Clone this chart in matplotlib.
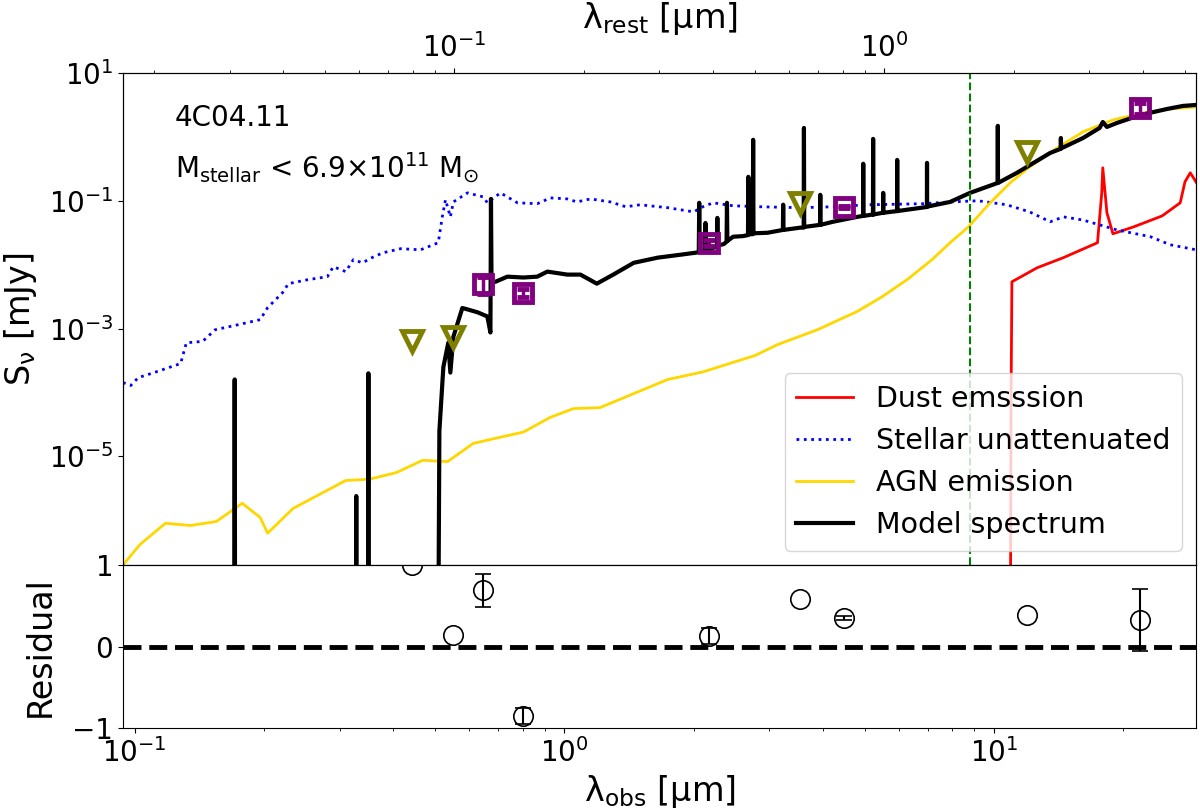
import numpy as np
import matplotlib.pyplot as plt

plt.rcParams['font.size'] = 20
plt.rcParams['mathtext.default'] = 'regular'

one_plus_z = 5.55
lam_break = 8.8   # obs-frame marker line

# --- SED model components (obs wavelength [um], flux [mJy])
dust_lam = [10.9, 10.95, 11.0, 12.6, 14.5, 17.4, 17.8, 17.9, 18.3, 18.9, 21.1, 24.6,
            27.1, 27.8, 28.6, 29.0, 29.6]
dust_flux = [1e-9, 7.8e-5, 5.4e-3, 8.97e-3, 0.0129, 0.0221, 0.133, 0.328, 0.065, 0.0305,
             0.039, 0.058, 0.093, 0.198, 0.274, 0.237, 0.19]

stellar_lam = [0.094, 0.098, 0.102, 0.111, 0.128, 0.132, 0.144, 0.154, 0.170, 0.196,
               0.204, 0.221, 0.228, 0.252, 0.281, 0.290, 0.310, 0.323, 0.339, 0.360,
               0.379, 0.416, 0.463, 0.509, 0.520, 0.529, 0.543, 0.552, 0.595, 0.648,
               0.662, 0.710, 0.778, 0.865, 0.928, 1.016, 1.07, 1.15, 1.28, 1.39, 1.50,
               1.74, 2.00, 2.10, 2.22, 2.47, 2.86, 3.54, 4.22, 5.07, 6.84, 7.90, 9.18,
               10.7, 12.1, 13.5, 14.5, 16.1, 19.3, 23.1, 25.7, 29.5]
stellar_flux = [1.43e-4, 1.29e-4, 1.71e-4, 2.05e-4, 2.84e-4, 6.0e-4, 6.3e-4, 9.6e-4,
                1.11e-3, 1.38e-3, 2.13e-3, 3.65e-3, 5.05e-3, 5.8e-3, 6.5e-3, 9.3e-3,
                7.8e-3, 0.0120, 0.0107, 0.0133, 0.0154, 0.0178, 0.0171, 0.0221, 0.056,
                0.104, 0.056, 0.096, 0.133, 0.115, 0.093, 0.133, 0.093, 0.090, 0.111,
                0.107, 0.096, 0.107, 0.096, 0.0806, 0.0866, 0.078, 0.067, 0.0806, 0.093,
                0.0835, 0.0806, 0.078, 0.0806, 0.0866, 0.090, 0.096, 0.100, 0.0866,
                0.067, 0.047, 0.056, 0.050, 0.035, 0.0274, 0.0205, 0.0171]

agn_lam = [0.094, 0.103, 0.118, 0.135, 0.155, 0.178, 0.196, 0.204, 0.234, 0.310, 0.352,
           0.407, 0.468, 0.535, 0.614, 0.710, 0.803, 0.928, 1.05, 1.21, 1.74, 2.10, 2.78,
           3.13, 3.88, 4.80, 5.49, 6.31, 7.17, 7.90, 8.71, 9.79, 10.9, 12.1, 14.0, 16.1,
           18.9, 22.2, 25.7, 29.5]
agn_flux = [2.0e-7, 4.2e-7, 9.0e-7, 8.3e-7, 9.6e-7, 1.85e-6, 1.11e-6, 6.3e-7, 1.54e-6,
            4.2e-6, 4.4e-6, 5.6e-6, 8.7e-6, 8.3e-6, 1.6e-5, 2.0e-5, 2.4e-5, 4.1e-5,
            5.6e-5, 5.8e-5, 1.6e-4, 2.1e-4, 3.8e-4, 5.6e-4, 9.6e-4, 1.85e-3, 3.16e-3,
            6.0e-3, 0.012, 0.0221, 0.039, 0.093, 0.191, 0.34, 0.67, 1.2, 1.84, 2.37,
            2.74, 2.94]

model_lam = [0.094, 0.1705, 0.171, 0.1715, 0.3275, 0.328, 0.3285, 0.3495, 0.350, 0.3505,
             0.508, 0.512, 0.523, 0.537, 0.543, 0.552, 0.579, 0.595, 0.628, 0.662, 0.673,
             0.675, 0.677, 0.691, 0.737, 0.803, 0.865, 0.913, 1.016, 1.09, 1.19, 1.30,
             1.45, 1.65, 1.86, 2.02, 2.055, 2.06, 2.065, 2.125, 2.13, 2.135, 2.265, 2.27,
             2.275, 2.35, 2.385, 2.39, 2.395, 2.47, 2.60, 2.675, 2.68, 2.69, 2.745, 2.75,
             2.755, 2.97, 3.225, 3.23, 3.235, 3.54, 3.605, 3.61, 3.615, 3.935, 3.94,
             3.945, 4.22, 4.80, 4.955, 4.96, 4.965, 5.225, 5.23, 5.235, 5.515, 5.52,
             5.525, 5.945, 5.95, 5.955, 6.04, 6.975, 6.98, 6.985, 7.90, 8.79, 10.19,
             10.2, 10.21, 11.3, 13.5, 14.28, 14.3, 14.32, 16.1, 17.6, 17.9, 18.3, 19.3,
             21.9, 25.3, 27.5, 29.5]
model_flux = [1e-9, 1e-9, 1.6e-4, 1e-9, 1e-9, 2.4e-6, 1e-9, 1e-9, 2.0e-4, 1e-9,
              1e-9, 2.5e-5, 2.5e-4, 6.0e-4, 2.05e-4, 7.5e-4, 2.1e-3, 2.0e-3, 1.8e-3,
              1.55e-3, 8.7e-4, 0.107, 5.4e-3, 5.4e-3, 6.5e-3, 6.3e-3, 6.5e-3, 7.8e-3,
              7.0e-3, 7.0e-3, 5.05e-3, 7.0e-3, 0.0107, 0.0129, 0.0143, 0.0154, 0.0157,
              0.093, 0.016, 0.0165, 0.045, 0.017, 0.019, 0.054, 0.020, 0.021, 0.0229,
              0.093, 0.0235, 0.0274, 0.028, 0.029, 0.237, 0.030, 0.030, 0.90, 0.031,
              0.0316, 0.035, 0.087, 0.035, 0.038, 0.038, 1.38, 0.039, 0.042, 0.124,
              0.042, 0.047, 0.056, 0.058, 0.38, 0.058, 0.061, 0.93, 0.061, 0.065, 0.133,
              0.065, 0.069, 0.436, 0.069, 0.070, 0.080, 0.392, 0.081, 0.096, 0.133,
              0.19, 1.49, 0.19, 0.274, 0.56, 0.65, 0.96, 0.66, 0.96, 1.38, 1.71, 1.43,
              1.65, 2.2, 2.74, 3.05, 3.16]

# --- photometry
phot_lam = [0.648, 0.803, 2.17, 4.48, 21.8]
phot_flux = [5.0e-3, 3.65e-3, 0.0221, 0.0806, 2.84]
phot_err = [1.5e-3, 5e-4, 2.5e-3, 3e-3, 0.55]

lim_lam = [0.441, 0.552, 3.54, 11.9]
lim_flux = [6.5e-4, 7.5e-4, 0.093, 0.58]

res_lam = [0.441, 0.552, 0.648, 0.803, 2.17, 3.54, 4.48, 11.9, 21.8]
res_val = [1.0, 0.14, 0.69, -0.85, 0.13, 0.58, 0.35, 0.39, 0.33]
res_err = [np.nan, np.nan, 0.2, 0.1, 0.1, np.nan, 0.02, np.nan, 0.38]

xlim = (0.094, 29.5)

fig = plt.figure(figsize=(12, 8.09), dpi=100)
ax = fig.add_axes([0.1025, 0.3016, 0.8942, 0.6082])
axr = fig.add_axes([0.1025, 0.1001, 0.8942, 0.2015], sharex=ax)

ax.plot(dust_lam, dust_flux, color='red', lw=2, label='Dust emsssion')
ax.plot(stellar_lam, stellar_flux, color='blue', ls=':', lw=2, label='Stellar unattenuated')
ax.plot(agn_lam, agn_flux, color='gold', lw=2, label='AGN emission')
ax.plot(model_lam, model_flux, color='black', lw=3, label='Model spectrum')

ax.errorbar(phot_lam, phot_flux, yerr=phot_err, fmt='s', ms=13, mfc='none', mec='purple',
            mew=3.5, ecolor='purple', elinewidth=2.5, capsize=4, capthick=2.5, zorder=5)
ax.plot(lim_lam, lim_flux, 'v', ms=15, mfc='none', mec='olive', mew=3.5, zorder=5)
ax.axvline(lam_break, color='green', ls='--', lw=1.5)

ax.set_xscale('log')
ax.set_yscale('log')
ax.set_xlim(xlim)
ax.set_ylim(2.0e-7, 10)
ax.set_yticks([1e-5, 1e-3, 1e-1, 1e1])
ax.yaxis.set_minor_locator(plt.NullLocator())
ax.tick_params(axis='x', which='both', bottom=False, labelbottom=False)
ax.set_ylabel(r'$S_{\nu}$ [mJy]', fontsize=24)
ax.yaxis.set_label_coords(-0.078, 0.5)

ax.text(0.048, 0.909, '4C04.11', transform=ax.transAxes, va='center', fontsize=20)
ax.text(0.048, 0.807, r'M$_{\rm stellar}$ < 6.9$\times$10$^{11}$ M$_{\odot}$',
        transform=ax.transAxes, va='center', fontsize=20)

ax.legend(loc='lower right', fontsize=20.5)

# rest-frame axis on top
top = ax.twiny()
top.set_xscale('log')
top.set_xlim(xlim[0] / one_plus_z, xlim[1] / one_plus_z)
top.set_xlabel(r'$\lambda_{\rm rest}$ [μm]', fontsize=24)

# residuals
axr.errorbar(res_lam, res_val, yerr=res_err, fmt='o', ms=14, mfc='none', mec='black',
             mew=1.2, ecolor='black', elinewidth=1.5, capsize=6)
axr.axhline(0, color='black', ls='--', lw=3.5)
axr.set_ylim(-1, 1)
axr.set_yticks([-1, 0, 1])
axr.set_xlim(xlim)
axr.set_xlabel(r'$\lambda_{\rm obs}$ [μm]', fontsize=24)
axr.set_ylabel('Residual', fontsize=24)
axr.yaxis.set_label_coords(-0.062, 0.5)

fig.savefig('out.png', dpi=100)
